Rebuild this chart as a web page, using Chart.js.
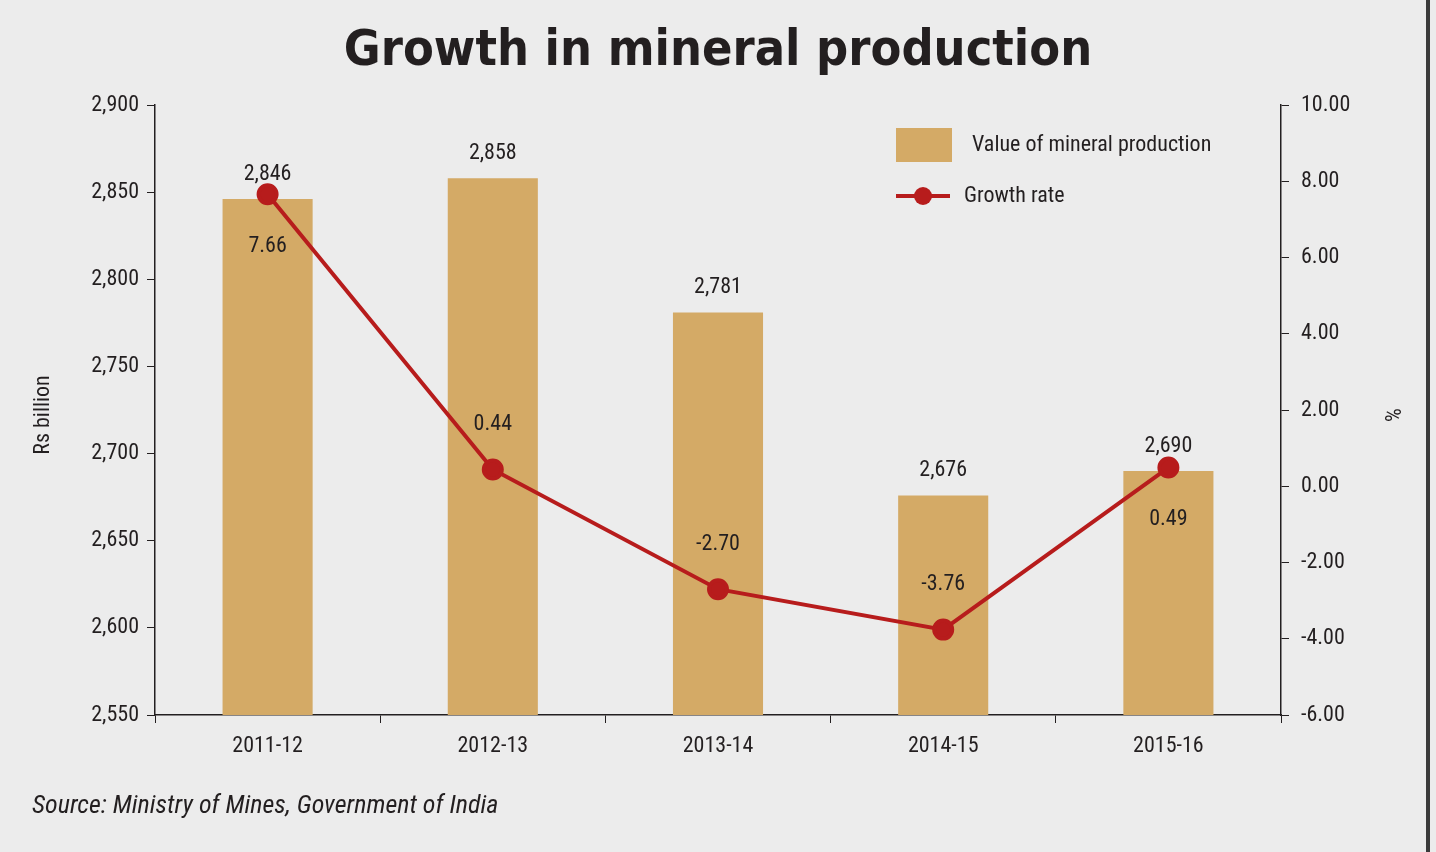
<!DOCTYPE html>
<html><head><meta charset="utf-8">
<script src="https://cdn.jsdelivr.net/npm/chart.js@4"></script>
<style>body{margin:0;background:#ececec;overflow:hidden}canvas{display:block}</style>
</head><body><canvas id="c" width="1436" height="852"></canvas>
<script>
const years = ['2011-12', '2012-13', '2013-14', '2014-15', '2015-16'];
const production = [2846, 2858, 2781, 2676, 2690];
const growth = [7.66, 0.44, -2.70, -3.76, 0.49];
const growthLabelBelow = [true, false, false, false, true];

const FONT = '"Liberation Sans Narrow", "Roboto Condensed", Roboto, sans-serif';
const BAR = '#d4aa66';
const RED = '#b71c1c';

const decor = {
  id: 'decor',
  afterDatasetsDraw(chart) {
    const ctx = chart.ctx;
    ctx.save();
    // title
    ctx.fillStyle = '#231f20';
    ctx.font = 'bold 50px "DejaVu Sans Condensed", ' + FONT;
    ctx.textAlign = 'center';
    ctx.textBaseline = 'middle';
    ctx.fillText('Growth in mineral production', 718, 52);
    // data labels
    ctx.font = '22px ' + FONT;
    ctx.fillStyle = '#231f20';
    const bars = chart.getDatasetMeta(0).data;
    bars.forEach((b, i) => {
      ctx.fillText(production[i].toLocaleString('en-US'), b.x, b.y - 25);
    });
    const pts = chart.getDatasetMeta(1).data;
    pts.forEach((p, i) => {
      ctx.fillText(growth[i].toFixed(2), p.x, growthLabelBelow[i] ? p.y + 52 : p.y - 45);
    });
    // axis titles
    ctx.save();
    ctx.translate(43, 415);
    ctx.rotate(-Math.PI / 2);
    ctx.fillText('Rs billion', 0, 0);
    ctx.restore();
    ctx.save();
    ctx.translate(1390, 415);
    ctx.rotate(Math.PI / 2);
    ctx.fillText('%', 0, 0);
    ctx.restore();
    // legend
    ctx.fillStyle = BAR;
    ctx.fillRect(896, 128, 56, 34);
    ctx.fillStyle = '#231f20';
    ctx.textAlign = 'left';
    ctx.fillText('Value of mineral production', 972, 145);
    ctx.strokeStyle = RED;
    ctx.lineWidth = 4;
    ctx.beginPath(); ctx.moveTo(896, 196); ctx.lineTo(950, 196); ctx.stroke();
    ctx.fillStyle = RED;
    ctx.beginPath(); ctx.arc(923, 196, 9, 0, Math.PI * 2); ctx.fill();
    ctx.fillStyle = '#231f20';
    ctx.fillText('Growth rate', 964, 196);
    // source
    ctx.font = 'italic 26px ' + FONT;
    ctx.fillText('Source: Ministry of Mines, Government of India', 32, 806);
    // right border
    ctx.fillStyle = '#3a3a3a';
    ctx.fillRect(1426, 0, 4, 852);
    ctx.restore();
  }
};

const tickFont = { family: FONT, size: 22 };
new Chart(document.getElementById('c'), {
  data: {
    labels: years,
    datasets: [
      { type: 'bar', data: production, backgroundColor: BAR, yAxisID: 'y', barPercentage: 0.4, categoryPercentage: 1, order: 2 },
      { type: 'line', data: growth, borderColor: RED, backgroundColor: RED, borderWidth: 4, pointRadius: 9, yAxisID: 'y1', order: 1 }
    ]
  },
  options: {
    responsive: false,
    animation: false,
    layout: { padding: { top: 105, left: 0, right: 0, bottom: 0 } },
    plugins: { legend: { display: false }, tooltip: { enabled: false } },
    scales: {
      x: {
        offset: true,
        grid: { display: true, drawOnChartArea: false, offset: true, tickLength: 8, color: '#231f20' },
        border: { color: '#231f20', width: 1.5 },
        ticks: { color: '#231f20', font: tickFont, padding: 10 },
        afterFit(s) { s.height = 137; }
      },
      y: {
        position: 'left', min: 2550, max: 2900,
        grid: { drawOnChartArea: false, tickLength: 8, color: '#231f20' },
        border: { color: '#231f20', width: 1.5 },
        ticks: { stepSize: 50, color: '#231f20', font: tickFont, padding: 8,
          callback: v => v.toLocaleString('en-US') },
        afterFit(s) { s.width = 155; }
      },
      y1: {
        position: 'right', min: -6, max: 10,
        grid: { drawOnChartArea: false, tickLength: 8, color: '#231f20' },
        border: { color: '#231f20', width: 1.5 },
        ticks: { stepSize: 2, color: '#231f20', font: tickFont, padding: 12,
          callback: v => v.toFixed(2) },
        afterFit(s) { s.width = 155; }
      }
    }
  },
  plugins: [decor]
});
</script></body></html>
